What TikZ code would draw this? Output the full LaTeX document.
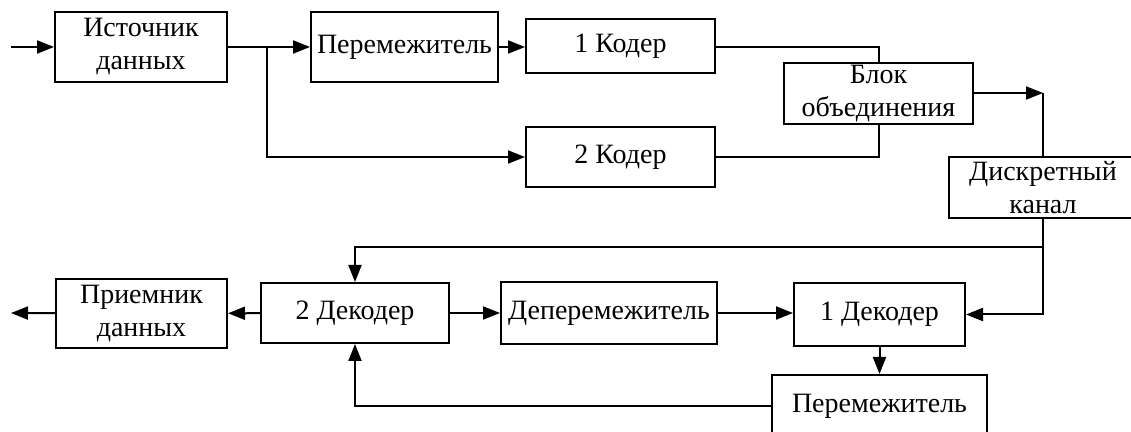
\documentclass[tikz,border=0pt]{standalone}
\usepackage{fontspec}
\setmainfont{Liberation Serif}
\usepackage{tikz}
\usetikzlibrary{arrows.meta}

\begin{document}
\begin{tikzpicture}[x=0.5pt, y=-0.5pt, line width=1pt,
  block/.style={draw, line width=1pt, inner sep=0pt, align=center,
    font=\fontsize{14}{16.5}\selectfont},
  arr/.style={-{Triangle[length=8.5pt,width=6.5pt]}}]
\useasboundingbox (0,0) rectangle (1131,432);
%%% Draws coder side
% draws blocks
\node[block, minimum width=86pt, minimum height=35pt] (src) at (141,47) {Источник\\данных};
\node[block, minimum width=93.5pt, minimum height=35pt] (perm1) at (404.5,47) {Перемежитель};
\node[block, minimum width=94.5pt, minimum height=27pt] (cod1) at (620.5,46) {1 Кодер};
\node[block, minimum width=94.5pt, minimum height=30pt] (cod2) at (620.5,157) {2 Кодер};
\node[block, minimum width=94.5pt, minimum height=30.5pt] (comb) at (878.5,93.5) {Блок\\объединения};
\node[block, minimum width=94pt, minimum height=30.5pt] (chan) at (1043,187.5) {Дискретный\\канал};
% draws connectors
\coordinate (in) at (11,47);
\coordinate (br) at (267,47);
\coordinate (cj) at (1043,93);
\draw[arr] (in) -- (src);
\draw (src) -- (br);
\draw[arr] (br) -- (perm1);
\draw[arr] (br) |- (cod2);
\draw[arr] (perm1.east) -- (perm1.east -| cod1.west);
\draw (cod1.east |- br) -| (comb);
\draw (cod2) -| (comb);
\draw[arr] (comb.east |- cj) -- (cj);
\draw (cj) -- (chan.north);
%%% Draws decoder side
% draws blocks
\node[block, minimum width=85.5pt, minimum height=34.5pt] (rcv) at (141.5,313.5) {Приемник\\данных};
\node[block, minimum width=94pt, minimum height=30pt] (dec2) at (355,313) {2 Декодер};
\node[block, minimum width=108pt, minimum height=31pt] (deperm) at (609,313) {Деперемежитель};
\node[block, minimum width=85.5pt, minimum height=31.5pt] (dec1) at (879.5,314.5) {1 Декодер};
\node[block, minimum width=107.5pt, minimum height=31pt] (perm2) at (879.5,406) {Перемежитель};
% draws connectors
\coordinate (fb) at (1043,247);
\coordinate (out) at (11,313);
\draw (chan) -- (fb);
\draw[arr] (fb) -| (dec2);
\draw[arr] (fb) |- (dec1);
\draw[arr] (dec2) -- (rcv);
\draw[arr] (rcv) -- (out);
\draw[arr] (dec2) -- (deperm);
\draw[arr] (deperm.east) -- (deperm.east -| dec1.west);
\draw[arr] (dec1) -- (perm2);
\draw[arr] (perm2) -| (dec2);
\end{tikzpicture}
\end{document}
